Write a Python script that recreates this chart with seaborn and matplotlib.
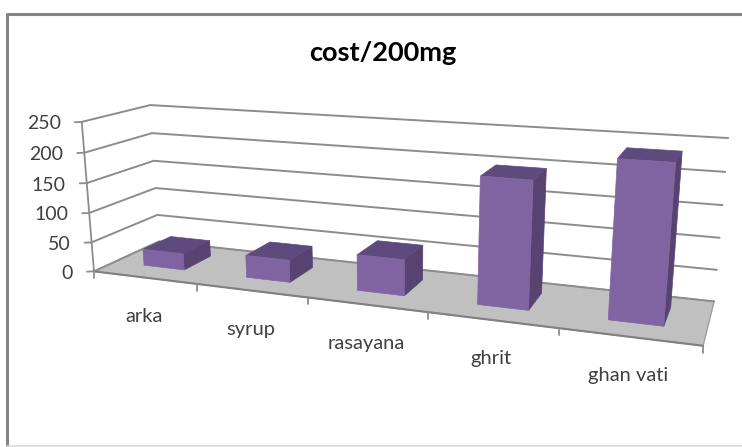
import numpy as np
import matplotlib
matplotlib.use("Agg")
import matplotlib.pyplot as plt
from matplotlib.patches import Polygon
import seaborn as sns

categories = ["arka", "syrup", "rasayana", "ghrit", "ghan vati"]
cost_per_200mg = [28, 37, 58, 197, 236]
y_ticks = [0, 50, 100, 150, 200, 250]
title = "cost/200mg"

W, H = 742, 447
sns.set_theme(style="white")
plt.rcParams["font.family"] = ["Lato", "DejaVu Sans"]

# Calibration of the 3-D box: (x category edge, depth, value) -> picture pixels
calib_world = np.array([
    [0, 0, 0], [5, 0, 0], [0, 1, 0], [5, 1, 0],
    [0, 0, 250], [0, 1, 250], [5, 1, 250],
    [0, 0, 100], [0, 1, 100], [5, 1, 100],
], float)
calib_px = np.array([
    [94, 272], [703, 346], [159, 241], [714, 301],
    [82, 122], [150, 105], [728, 138],
    [89, 212], [155.7, 188.7], [720, 238],
], float)

A = []
for (a, b, c), (u, v) in zip(calib_world, calib_px):
    A.append([a, b, c, 1, 0, 0, 0, 0, -u * a, -u * b, -u * c, -u])
    A.append([0, 0, 0, 0, a, b, c, 1, -v * a, -v * b, -v * c, -v])
P = np.linalg.svd(np.array(A))[2][-1].reshape(3, 4)


def proj(x, d, y):
    h = P @ np.array([x, d, y, 1.0])
    return h[0] / h[2], h[1] / h[2]


fig = plt.figure(figsize=(W / 100, H / 100), dpi=100, facecolor="white")

# seaborn computes the bars on a hidden categorical axes
hidden = fig.add_axes([0, 0, 1, 1])
sns.barplot(x=categories, y=cost_per_200mg, width=0.40, ax=hidden)
rects = list(hidden.patches)
geom = [(r.get_x() + 0.5, r.get_width(), r.get_height()) for r in rects]
hidden.remove()

ax = fig.add_axes([0, 0, 1, 1])
ax.set_xlim(0, W)
ax.set_ylim(H, 0)
ax.axis("off")

GRID = "#8c8c8c"
TXT = "#404040"
FRONT, SIDE, TOP = "#8064a2", "#574272", "#5f4a7e"

# chart frame
ax.plot([7, 7, W], [H, 13.5, 13.5], color="#858585", lw=2.2, solid_capstyle="butt")
ax.plot([7, W], [446, 446], color="#d9d9d9", lw=1.2)

# floor
ax.add_patch(Polygon([proj(0, 0, 0), proj(5, 0, 0), proj(5, 1, 0), proj(0, 1, 0)],
                     closed=True, fc="#c0c0c0", ec="#a0a0a0", lw=1))

# gridlines, wall and value axis
for t in y_ticks:
    pts = [proj(0, 0, t), proj(0, 1, t), proj(5, 1, t)]
    ax.plot(*zip(*pts), color=GRID, lw=1.4, zorder=1)
    x0, y0 = proj(0, 0, t)
    ax.plot([x0 - 7, x0], [y0 + 0.3, y0], color=GRID, lw=1.3)
    ax.text(x0 - 21, y0 + 2, str(t), ha="right", va="center", fontsize=14, color=TXT)
ax.plot(*zip(proj(0, 0, 0), proj(0, 0, 250)), color=GRID, lw=1.3)

# category axis with ticks
ax.plot(*zip(proj(0, 0, 0), proj(5, 0, 0)), color="#808080", lw=1.5, zorder=2)
for i in range(6):
    x0, y0 = proj(i, 0, 0)
    ax.plot([x0, x0], [y0, y0 + 7], color=GRID, lw=1.3)

# category labels
for i, c in enumerate(categories):
    x0, y0 = proj(i + 0.47, 0, 0)
    ax.text(x0 + 3, y0 + 39, c, ha="center", va="center", fontsize=14.5, color=TXT)

# bars: each seaborn rectangle is extruded in depth and projected
D0, D1 = 0.30, 0.74
for i, (left, w, h) in enumerate(geom):
    r = left + w
    ax.add_patch(Polygon([proj(r, D0, 0), proj(r, D1, 0), proj(r, D1, h), proj(r, D0, h)],
                         fc=SIDE, ec=SIDE, lw=0.5, zorder=3 + i))
    ax.add_patch(Polygon([proj(left, D0, h), proj(r, D0, h), proj(r, D1, h), proj(left, D1, h)],
                         fc=TOP, ec=TOP, lw=0.5, zorder=3 + i))
    ax.add_patch(Polygon([proj(left, D0, 0), proj(r, D0, 0), proj(r, D0, h), proj(left, D0, h)],
                         fc=FRONT, ec=FRONT, lw=0.5, zorder=3 + i))

ax.text(383, 53, title, ha="center", va="center", fontsize=19.5, color="black", fontweight="bold")

fig.savefig("out.png", dpi=100)
